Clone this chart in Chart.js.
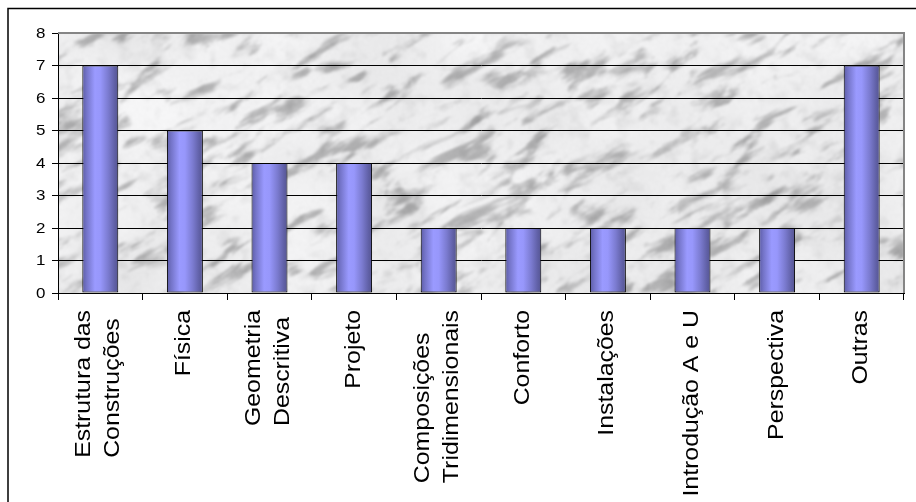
<!DOCTYPE html>
<html>
<head>
<meta charset="utf-8">
<script src="https://cdn.jsdelivr.net/npm/chart.js@4.4.1/dist/chart.umd.min.js"></script>
<style>
  html, body { margin: 0; padding: 0; background: #fff; }
  canvas { display: block; }
</style>
</head>
<body>
<canvas id="chart" width="916" height="502"></canvas>
<script>
// Disciplines (multi-line labels) and number of answers per discipline
const categories = [
  ["Estrutura das", "Construções"],
  ["Física"],
  ["Geometria", "Descritiva"],
  ["Projeto"],
  ["Composições", "Tridimensionais"],
  ["Conforto"],
  ["Instalações"],
  ["Introdução A e U"],
  ["Perspectiva"],
  ["Outras"]
];
const counts = [7, 5, 4, 4, 2, 2, 2, 2, 2, 7];

// Value axis range
const yMin = 0;
const yMax = 8;
const yStep = 1;

const FONT = '"Liberation Sans", Arial, Helvetica, sans-serif';
const TEXT_STRETCH = 1.13;   // labels are drawn slightly widened

// ---- deterministic value noise used for the marble plot fill ----
function hash2(ix, iy) {
  let h = Math.imul(ix | 0, 374761393) ^ Math.imul(iy | 0, 668265263);
  h = Math.imul(h ^ (h >>> 13), 1274126177);
  h ^= h >>> 16;
  return (h >>> 0) / 4294967295;
}
function vnoise(x, y) {
  const ix = Math.floor(x), iy = Math.floor(y);
  const fx = x - ix, fy = y - iy;
  const ux = fx * fx * (3 - 2 * fx), uy = fy * fy * (3 - 2 * fy);
  const a = hash2(ix, iy), b = hash2(ix + 1, iy);
  const c = hash2(ix, iy + 1), d = hash2(ix + 1, iy + 1);
  return a + (b - a) * ux + (c - a) * uy + (a - b - c + d) * ux * uy;
}
function fbm(x, y, oct) {
  let s = 0, amp = 0.5, f = 1, n = 0;
  for (let i = 0; i < oct; i++) {
    s += amp * vnoise(x * f + i * 17.3, y * f + i * 31.7);
    n += amp; amp *= 0.5; f *= 2.03;
  }
  return s / n;
}
function smooth(e0, e1, v) {
  const t = Math.min(1, Math.max(0, (v - e0) / (e1 - e0)));
  return t * t * (3 - 2 * t);
}
function buildMarble(w, h) {
  const raw = document.createElement('canvas');
  raw.width = w; raw.height = h;
  const g = raw.getContext('2d');
  const img = g.createImageData(w, h);
  const d = img.data;
  for (let y = 0; y < h; y++) {
    for (let x = 0; x < w; x++) {
      const a = x * 0.87 - y * 0.5;    // along the veins (rising to the right)
      const b = x * 0.5 + y * 0.87;    // across the veins
      const warp = fbm(a / 80 + 5, b / 30 + 9, 3);
      const v = fbm(a / 30 + warp * 1.6, b / 9 + warp * 1.1, 5);
      const mott = fbm(x / 11 + 40, y / 11 + 13, 3);
      const cloud = fbm(x / 80 + 70, y / 80 + 3, 2);
      const dark = smooth(0.5, 0.8, v);
      const grain = hash2(x + 1000, y + 2000) - 0.5;
      let c = 238 - dark * 62 - Math.max(0, mott - 0.52) * 40 + (cloud - 0.5) * 20 + grain * 8;
      c = Math.max(140, Math.min(250, c));
      const k = (y * w + x) * 4;
      d[k] = c; d[k + 1] = c; d[k + 2] = c + 1; d[k + 3] = 255;
    }
  }
  g.putImageData(img, 0, 0);
  const out = document.createElement('canvas');
  out.width = w; out.height = h;
  const o = out.getContext('2d');
  o.fillStyle = '#e6e6e6';
  o.fillRect(0, 0, w, h);
  o.filter = 'blur(1px)';
  o.drawImage(raw, 0, 0);
  return out;
}
let marble = null;

const BAR_PCT = 0.425;

// cylinder-like shading across each bar
function barFill(context) {
  const chart = context.chart;
  const xs = chart.scales && chart.scales.x;
  if (!chart.chartArea || !xs) return '#9999ff';
  const cx = xs.getPixelForValue(context.dataIndex);
  const half = (xs.width / categories.length) * BAR_PCT / 2;
  const gr = chart.ctx.createLinearGradient(cx - half, 0, cx + half, 0);
  gr.addColorStop(0.00, '#5c5ca6');
  gr.addColorStop(0.12, '#7474c8');
  gr.addColorStop(0.35, '#9a9aff');
  gr.addColorStop(0.50, '#9797fb');
  gr.addColorStop(0.72, '#7b7bd0');
  gr.addColorStop(0.90, '#6060a6');
  gr.addColorStop(1.00, '#555590');
  return gr;
}

function stretchedText(ctx, text, x, y, angle) {
  ctx.save();
  ctx.translate(x, y);
  ctx.rotate(angle);
  ctx.scale(TEXT_STRETCH, 1);
  ctx.fillText(text, 0, 0);
  ctx.restore();
}

const framePlugin = {
  id: 'frame',
  beforeDraw(chart) {
    const { ctx, chartArea: a } = chart;
    ctx.save();
    ctx.fillStyle = '#fff';
    ctx.fillRect(0, 0, chart.width, chart.height);
    ctx.strokeStyle = '#000';
    ctx.lineWidth = 1.5;
    ctx.strokeRect(8, 8.5, chart.width + 20, chart.height + 20);
    const w = Math.ceil(a.right - a.left), h = Math.ceil(a.bottom - a.top);
    if (!marble || marble.width !== w || marble.height !== h) marble = buildMarble(w, h);
    ctx.drawImage(marble, a.left, a.top);
    ctx.restore();
  },
  beforeDatasetsDraw(chart) {
    const { ctx, chartArea: a } = chart;
    ctx.save();
    ctx.strokeStyle = '#858585';
    ctx.lineWidth = 2;
    ctx.beginPath();
    ctx.moveTo(a.left, a.top);
    ctx.lineTo(a.right, a.top);
    ctx.lineTo(a.right, a.bottom);
    ctx.stroke();
    ctx.restore();
  },
  afterDraw(chart) {
    const ctx = chart.ctx;
    const xs = chart.scales.x;
    const ys = chart.scales.y;
    ctx.save();
    ctx.fillStyle = '#000';

    // value axis numbers
    ctx.font = '15px ' + FONT;
    ctx.textBaseline = 'middle';
    ctx.textAlign = 'right';
    ys.ticks.forEach(t => {
      ctx.save();
      ctx.translate(45.5, ys.getPixelForValue(t.value) + 0.5);
      ctx.scale(TEXT_STRETCH, 1);
      ctx.fillText(String(t.value), 0, 0);
      ctx.restore();
    });

    // category names, read bottom-to-top
    const top = 310, lh = 29;
    ctx.font = '22px ' + FONT;
    ctx.textAlign = 'left';
    categories.forEach((lines, i) => {
      const cx = xs.getPixelForValue(i) - (lines.length > 1 ? 1.5 : 0.5);
      const maxW = Math.max(...lines.map(t => ctx.measureText(t).width * TEXT_STRETCH));
      lines.forEach((t, j) => {
        const x = cx + (j - (lines.length - 1) / 2) * lh;
        stretchedText(ctx, t, x, top + maxW, -Math.PI / 2);
      });
    });
    ctx.restore();
  }
};

new Chart(document.getElementById('chart'), {
  type: 'bar',
  data: {
    labels: categories.map(l => l.join(' ')),
    datasets: [{
      data: counts,
      backgroundColor: barFill,
      borderColor: '#000',
      borderWidth: 1,
      borderSkipped: false,
      barPercentage: BAR_PCT,
      categoryPercentage: 1
    }]
  },
  options: {
    responsive: false,
    animation: false,
    events: [],
    layout: { padding: { top: 33, right: 12, left: 0, bottom: 0 } },
    plugins: { legend: { display: false }, tooltip: { enabled: false } },
    scales: {
      x: {
        type: 'category',
        ticks: { display: false },
        grid: { offset: true, drawOnChartArea: false, drawTicks: true, tickLength: 7, tickColor: '#000', tickWidth: 1 },
        border: { color: '#000', width: 1 },
        afterFit(s) { s.height = 209; }
      },
      y: {
        min: yMin,
        max: yMax,
        ticks: { stepSize: yStep, display: false },
        grid: {
          color: c => (c.tick && c.tick.value === yMax) ? 'rgba(0,0,0,0)' : '#000',
          lineWidth: 1,
          tickColor: '#000',
          tickLength: 6,
          drawTicks: true
        },
        border: { color: '#000', width: 1 },
        afterFit(s) { s.width = 58; }
      }
    }
  },
  plugins: [framePlugin]
});
</script>
</body>
</html>
